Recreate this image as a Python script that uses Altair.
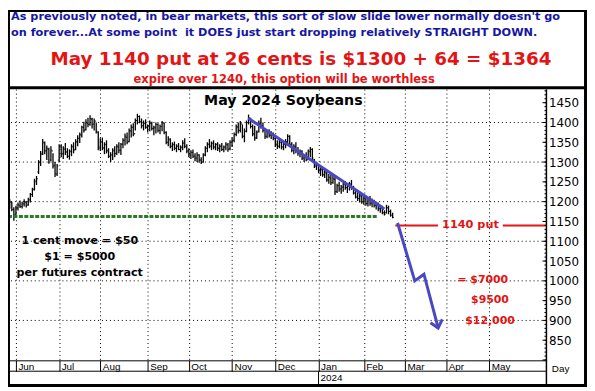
import altair as alt
import pandas as pd

# ---------------- data ----------------
FIRST_BAR = -3   # trading-day index of first visible bar (0 = 1 Jun 2023)
HIGH = [1206,1200,1186,1190,1198,1203,1200,1206,1202,1210,
        1222,1235,1258,1265,1305,1328,1358,1352,1342,1336,
        1340,1322,1300,1295,1345,1345,1340,1348,1335,1332,
        1345,1350,1358,1368,1375,1392,1402,1408,1412,1418,
        1412,1410,1400,1378,1360,1362,1350,1355,1335,1325,
        1335,1340,1345,1350,1348,1360,1372,1375,1385,1395,
        1398,1410,1422,1418,1410,1405,1408,1395,1405,1402,
        1392,1400,1398,1395,1404,1400,1378,1365,1360,1350,
        1352,1345,1348,1342,1355,1360,1345,1335,1330,1332,
        1322,1325,1320,1312,1322,1340,1350,1358,1352,1355,
        1348,1350,1345,1348,1342,1350,1348,1355,1362,1375,
        1395,1400,1404,1395,1385,1405,1420,1412,1395,1392,
        1380,1405,1412,1400,1385,1380,1383,1378,1375,1362,
        1355,1358,1352,1350,1358,1370,1368,1350,1345,1350,
        1338,1332,1330,1320,1325,1332,1338,1335,1308,1300,
        1295,1288,1285,1280,1275,1270,1268,1265,1263,1245,
        1250,1242,1248,1252,1245,1250,1255,1240,1232,1225,
        1222,1218,1215,1212,1210,1214,1208,1205,1200,1198,
        1192,1190,1178,1192,1190,1180,1172]
LOW = [1182,1176,1152,1165,1178,1184,1183,1188,1185,1190,
       1198,1212,1228,1242,1270,1290,1318,1320,1305,1296,
       1302,1284,1262,1265,1300,1312,1308,1318,1310,1306,
       1315,1322,1330,1340,1348,1362,1375,1380,1388,1392,
       1385,1380,1372,1330,1328,1330,1320,1322,1310,1300,
       1305,1312,1318,1322,1318,1335,1342,1345,1350,1362,
       1365,1380,1395,1398,1385,1380,1384,1375,1378,1380,
       1368,1372,1375,1370,1378,1370,1345,1340,1335,1328,
       1330,1325,1330,1325,1330,1335,1322,1312,1308,1310,
       1302,1300,1298,1295,1298,1315,1325,1335,1330,1332,
       1330,1328,1325,1328,1325,1330,1326,1330,1338,1350,
       1365,1372,1375,1360,1350,1375,1395,1385,1365,1354,
       1358,1375,1385,1375,1358,1360,1362,1358,1355,1338,
       1333,1335,1332,1330,1335,1345,1340,1325,1320,1322,
       1316,1312,1305,1300,1302,1305,1312,1304,1285,1280,
       1272,1265,1263,1260,1250,1245,1242,1245,1217,1222,
       1225,1220,1225,1230,1222,1228,1230,1218,1208,1202,
       1198,1195,1192,1190,1188,1190,1186,1185,1180,1176,
       1172,1168,1165,1170,1168,1162,1158]
OPEN = [1190,1198,1180,1168,1184,1190,1188,1194,1198,1192,
        1204,1218,1232,1250,1275,1298,1322,1348,1330,1332,
        1305,1328,1292,1270,1305,1338,1322,1332,1326,1315,
        1326,1338,1332,1350,1360,1368,1388,1382,1398,1396,
        1408,1396,1402,1375,1338,1350,1336,1344,1330,1315,
        1318,1328,1322,1338,1330,1345,1355,1362,1352,1378,
        1388,1372,1405,1415,1402,1392,1398,1388,1390,1398,
        1385,1386,1395,1380,1390,1398,1375,1350,1356,1340,
        1344,1335,1340,1332,1336,1348,1340,1328,1318,1324,
        1315,1310,1318,1305,1300,1318,1335,1345,1340,1346,
        1338,1344,1335,1340,1332,1338,1344,1334,1350,1355,
        1370,1388,1380,1396,1365,1378,1400,1410,1390,1370,
        1362,1378,1396,1392,1380,1365,1374,1368,1370,1360,
        1345,1340,1350,1338,1345,1352,1365,1345,1330,1338,
        1328,1322,1326,1310,1314,1306,1326,1332,1306,1290,
        1292,1278,1280,1268,1272,1255,1260,1248,1256,1226,
        1240,1232,1236,1244,1236,1238,1244,1235,1222,1212,
        1208,1214,1200,1206,1196,1204,1196,1200,1190,1194,
        1182,1186,1172,1172,1184,1175,1166]
CLOSE = [1200,1180,1165,1185,1192,1188,1196,1200,1190,1206,
         1218,1230,1252,1258,1300,1320,1350,1328,1335,1300,
         1330,1290,1270,1290,1340,1320,1335,1325,1315,1328,
         1340,1330,1352,1360,1370,1388,1380,1400,1395,1410,
         1395,1405,1378,1335,1352,1335,1345,1328,1315,1318,
         1330,1322,1340,1330,1345,1355,1365,1350,1380,1388,
         1370,1405,1415,1402,1392,1398,1388,1392,1398,1385,
         1388,1395,1380,1390,1400,1375,1350,1358,1340,1345,
         1335,1340,1332,1338,1348,1340,1328,1318,1325,1315,
         1310,1318,1305,1300,1318,1335,1345,1340,1348,1338,
         1345,1335,1340,1332,1338,1345,1332,1350,1355,1370,
         1390,1380,1398,1365,1378,1400,1412,1390,1372,1360,
         1375,1398,1392,1380,1365,1375,1368,1372,1360,1345,
         1340,1350,1338,1345,1352,1365,1345,1330,1340,1328,
         1322,1328,1310,1315,1305,1328,1332,1310,1290,1295,
         1278,1282,1268,1275,1255,1262,1248,1258,1225,1240,
         1232,1238,1245,1235,1240,1245,1235,1222,1212,1208,
         1215,1200,1208,1195,1205,1196,1200,1190,1195,1182,
         1188,1172,1168,1185,1175,1166,1160]

MONTH_POS = [0, 21, 41, 64, 84, 105, 126, 147, 169, 189, 209, 230]
MONTH_LBL = ["Jun", "Jul", "Aug", "Sep", "Oct", "Nov", "Dec",
             "Jan", "Feb", "Mar", "Apr", "May"]
YEAR_POS = [147]
YEAR_LBL = ["2024"]
Y_LABELS = [850, 900, 950, 1000, 1050, 1100, 1150, 1200, 1250,
            1300, 1350, 1400, 1450]
GRID_Y = [900, 1000, 1100, 1200, 1300, 1400]
MINOR_TICKS = list(range(800, 1481, 10))
MAJOR_TICKS = list(range(800, 1481, 50))

SUPPORT_PRICE = [1162.5]
SUPPORT_FROM = [-3.85]
SUPPORT_TO = [175.8]

TREND_I = [112.8, 179.0]
TREND_P = [1411.0, 1181.75]

PROJ_I = [185.4, 193.75, 198.2, 205.1]
PROJ_P = [1146.0, 1000.0, 1016.75, 881.0]
HEAD_I = [201.4, 205.1, 207.1]
HEAD_P = [894.25, 881.0, 902.5]

PUT_PRICE = 1140
PUT_FROM = [184.3, 236.5]
PUT_TO = [205.0, 257.7]

TITLE = "May 2024 Soybeans"
TITLE_I, TITLE_P = 129.9, 1444.25
NOTE_T = ["1 cent move = $50", "$1 = $5000", "per futures contract"]
NOTE_I = [31.0, 31.0, 31.0]
NOTE_P = [1093.0, 1052.5, 1011.0]
LOSS_T = ["= $7000", "$9500", "$12,000"]
LOSS_I = [226.8, 230.3, 230.3]
LOSS_P = [994.25, 943.5, 891.75]
PUT_T = "1140 put"
PUT_I = 220.8

HEAD1 = "As previously noted, in bear markets, this sort of slow slide lower normally doesn't go"
HEAD2 = "on forever...At some point\u00a0 it DOES just start dropping relatively STRAIGHT DOWN."
HEAD3 = "May 1140 put at 26 cents is $1300 + 64 = $1364"
HEAD4 = "expire over 1240, this option will be worthless"

# ---------------- chart ----------------
W, H = 544, 274
XS = alt.Scale(domain=[-3.85, 257.7], nice=False, zero=False)
YS = alt.Scale(domain=[799.25, 1484.25], nice=False, zero=False)
BLUE_TXT = "#1616a0"
RED = "#e31414"
BLUE = "#4848c2"
GREEN = "#2a7a2a"
FONT = "DejaVu Sans"
one = pd.DataFrame({"k": [0]})

bars = pd.DataFrame({
    "i": list(range(FIRST_BAR, FIRST_BAR + len(HIGH))),
    "h": HIGH, "l": LOW, "o": OPEN, "c": CLOSE,
})

label_expr = " : ".join(
    f"datum.value == {p} ? '{m}'" for p, m in zip(MONTH_POS, MONTH_LBL)
) + " : ''"

X_AXIS = alt.Axis(values=MONTH_POS, labelExpr=label_expr, tickSize=11,
                  tickColor="black", tickWidth=1, domainColor="black",
                  domainWidth=1, grid=True, gridDash=[1, 3],
                  gridColor="black", gridOpacity=1, gridWidth=1,
                  labelFont="Liberation Sans", labelFontSize=10,
                  labelColor="black", labelAlign="left",
                  labelBaseline="alphabetic", labelPadding=-1.5,
                  labelOffset=2, labelFlush=False, labelOverlap=False,
                  title=None)
Y_AXIS = alt.Axis(orient="right", values=Y_LABELS, format="d",
                  labelFont=FONT, labelFontSize=12, labelColor="black",
                  ticks=False, domain=False, grid=False, labelPadding=2,
                  title=None, labelOverlap=False, labelFlush=False)


def xq(f):
    return alt.X(f, type="quantitative", scale=XS, axis=X_AXIS)


def yq(f):
    return alt.Y(f, type="quantitative", scale=YS, axis=Y_AXIS)


layers = []

# horizontal dotted grid every 100
layers.append(alt.Chart(pd.DataFrame({"v": GRID_Y})).mark_rule(
    color="black", strokeWidth=1, strokeDash=[1, 3]).encode(y=yq("v")))

# high-low bars
layers.append(alt.Chart(bars).mark_rule(color="black", strokeWidth=1.3).encode(
    x=xq("i"), y=yq("l"), y2="h:Q"))
layers.append(alt.Chart(bars).mark_tick(
    orient="horizontal", color="black", thickness=1, size=1.4,
    xOffset=-0.7).encode(x=xq("i"), y=yq("o")))
layers.append(alt.Chart(bars).mark_tick(
    orient="horizontal", color="black", thickness=1, size=1.4,
    xOffset=0.7).encode(x=xq("i"), y=yq("c")))

# support line
sup = pd.DataFrame({"a": SUPPORT_FROM, "b": SUPPORT_TO, "p": SUPPORT_PRICE})
layers.append(alt.Chart(sup).mark_rule(
    color=GREEN, strokeWidth=3, strokeDash=[4, 1.5]).encode(
    x=xq("a"), x2="b", y=yq("p")))

# put strike line
put = pd.DataFrame({"a": PUT_FROM, "b": PUT_TO, "p": [PUT_PRICE] * 2})
layers.append(alt.Chart(put).mark_rule(color=RED, strokeWidth=2).encode(
    x=xq("a"), x2="b", y=yq("p")))

# trend line
trend = pd.DataFrame({"i": TREND_I, "p": TREND_P, "k": [0, 1]})
layers.append(alt.Chart(trend).mark_line(color=BLUE, strokeWidth=3).encode(
    x=xq("i"), y=yq("p"), order="k:O"))

# projected path and arrow head
proj = pd.DataFrame({"i": PROJ_I, "p": PROJ_P, "k": list(range(len(PROJ_I)))})
layers.append(alt.Chart(proj).mark_line(
    color=BLUE, strokeWidth=3, strokeJoin="miter").encode(
    x=xq("i"), y=yq("p"), order="k:O"))
head = pd.DataFrame({"i": HEAD_I, "p": HEAD_P, "k": [0, 1, 2]})
layers.append(alt.Chart(head).mark_line(
    color=BLUE, strokeWidth=3, strokeJoin="miter").encode(
    x=xq("i"), y=yq("p"), order="k:O"))

# inside ticks on the price axis
layers.append(alt.Chart(pd.DataFrame({"v": MINOR_TICKS})).mark_rule(
    color="black", strokeWidth=1).encode(
    y=yq("v"), x=alt.value(W - 2), x2=alt.value(W)))
layers.append(alt.Chart(pd.DataFrame({"v": MAJOR_TICKS})).mark_rule(
    color="black", strokeWidth=1).encode(
    y=yq("v"), x=alt.value(W - 4), x2=alt.value(W)))

# annotations inside the plot
layers.append(alt.Chart(pd.DataFrame({"i": [TITLE_I], "p": [TITLE_P], "t": [TITLE]})).mark_text(
    font=FONT, fontWeight="bold", fontSize=14.3, color="black",
    align="center", baseline="alphabetic").encode(
    x=xq("i"), y=yq("p"), text="t:N"))
layers.append(alt.Chart(pd.DataFrame({"i": NOTE_I, "p": NOTE_P, "t": NOTE_T})).mark_text(
    font=FONT, fontWeight="bold", fontSize=11.2, color="black",
    align="center", baseline="alphabetic").encode(
    x=xq("i"), y=yq("p"), text="t:N"))
layers.append(alt.Chart(pd.DataFrame({"i": LOSS_I, "p": LOSS_P, "t": LOSS_T})).mark_text(
    font=FONT, fontWeight="bold", fontSize=11, color=RED,
    align="center", baseline="alphabetic").encode(
    x=xq("i"), y=yq("p"), text="t:N"))
layers.append(alt.Chart(pd.DataFrame({"i": [PUT_I], "p": [PUT_PRICE], "t": [PUT_T]})).mark_text(
    font=FONT, fontWeight="bold", fontSize=11.4, color=RED,
    align="center", baseline="middle").encode(
    x=xq("i"), y=yq("p"), text="t:N"))

# date strip: lower line, year row
layers.append(alt.Chart(one).mark_rule(color="black", strokeWidth=1).encode(
    x=alt.value(0), x2=alt.value(W), y=alt.value(H + 11)))
yr = pd.DataFrame({"i": YEAR_POS, "t": YEAR_LBL})
layers.append(alt.Chart(yr).mark_rule(color="black", strokeWidth=1).encode(
    x=xq("i"), y=alt.value(H + 11), y2=alt.value(H + 24)))
layers.append(alt.Chart(yr).mark_text(
    font="Liberation Sans", fontSize=10, color="black", align="left",
    baseline="alphabetic", dx=2).encode(
    x=xq("i"), y=alt.value(H + 21.3), text="t:N"))
layers.append(alt.Chart(pd.DataFrame({"t": ["Day"]})).mark_text(
    font="Liberation Sans", fontSize=10, color="black", align="center",
    baseline="alphabetic").encode(
    x=alt.value(W + 14.3), y=alt.value(H + 12), text="t:N"))

# price axis line running down through the date strip
layers.append(alt.Chart(one).mark_rule(color="black", strokeWidth=1.5).encode(
    x=alt.value(W), y=alt.value(0), y2=alt.value(H + 24)))

# frame
TOTAL_W = 585
frame = [
    (0, TOTAL_W, -80, -78),        # top
    (0, 2, -80, H + 27),           # left
    (TOTAL_W - 3, TOTAL_W, -80, H + 27),  # right
    (0, TOTAL_W, H + 24, H + 27),  # bottom
    (0, TOTAL_W, -3, 0),           # under the header
]
for x1, x2, y1, y2 in frame:
    layers.append(alt.Chart(one).mark_rect(color="black").encode(
        x=alt.value(x1), x2=alt.value(x2), y=alt.value(y1), y2=alt.value(y2)))


def head_text(txt, x, y, size, color, align):
    return alt.Chart(pd.DataFrame({"t": [txt]})).mark_text(
        font=FONT, fontWeight="bold", fontSize=size, color=color,
        align=align, baseline="alphabetic").encode(
        x=alt.value(x), y=alt.value(y), text="t:N")


layers.append(head_text(HEAD1, 3, -69.5, 11.4, BLUE_TXT, "left"))
layers.append(head_text(HEAD2, 3, -54, 11.4, BLUE_TXT, "left"))
layers.append(head_text(HEAD3, 296, -24, 18.5, RED, "center"))
layers.append(head_text(HEAD4, 279, -6.3, 11.6, RED, "center"))

chart = alt.layer(*layers).properties(
    width=W, height=H,
    padding={"left": 0, "top": 80, "right": 41, "bottom": 27},
    autosize=alt.AutoSizeParams(type="none"),
    background="white",
).configure_view(stroke=None)

chart.save("out.html", embed_options={"renderer": "svg", "actions": False})
